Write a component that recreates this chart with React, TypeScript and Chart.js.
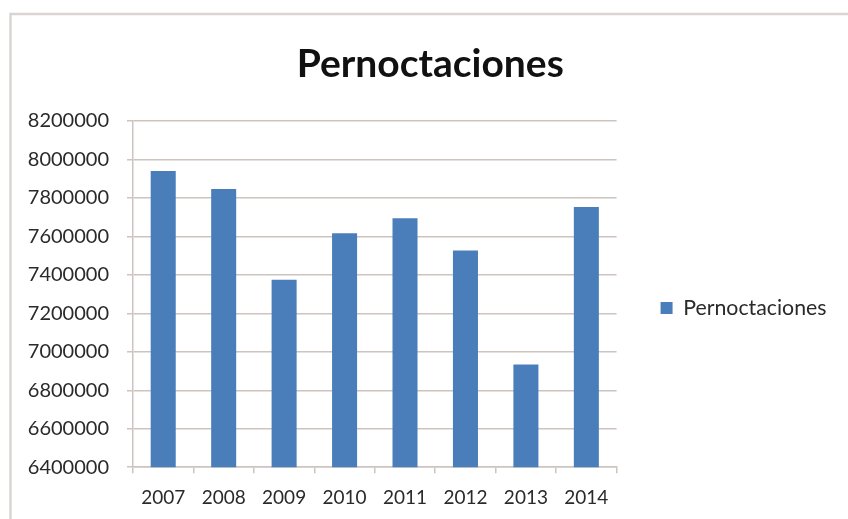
import React, { useEffect, useRef } from 'react';
import { Chart, registerables } from 'chart.js';

Chart.register(...registerables);

const categories = ['2007', '2008', '2009', '2010', '2011', '2012', '2013', '2014'];
const seriesName = 'Pernoctaciones';
const values = [7940000, 7846000, 7375000, 7617000, 7695000, 7527000, 6934000, 7753000];
const titleText = 'Pernoctaciones';
const yMin = 6400000;
const yMax = 8200000;
const yStep = 200000;

const barColor = '#4a7ebb';
const gridColor = '#cdc3bf';
const textColor = '#2a2a2a';
const fontFamily = 'Lato, "Open Sans", sans-serif';

const framePlugin = {
  id: 'frame',
  beforeDraw(chart: any) {
    const { ctx, width, height } = chart;
    ctx.save();
    ctx.fillStyle = '#ffffff';
    ctx.fillRect(0, 0, width, height);
    ctx.strokeStyle = '#dad5d2';
    ctx.lineWidth = 2.5;
    ctx.beginPath();
    ctx.moveTo(10.5, height);
    ctx.lineTo(10.5, 14);
    ctx.lineTo(width, 14);
    ctx.stroke();
    ctx.restore();
  },
};

export default function App() {
  const canvasRef = useRef<HTMLCanvasElement | null>(null);

  useEffect(() => {
    const canvas = canvasRef.current;
    if (!canvas) return;
    const chart = new Chart(canvas, {
      type: 'bar',
      data: {
        labels: categories,
        datasets: [
          {
            label: seriesName,
            data: values,
            backgroundColor: barColor,
            borderWidth: 0,
            barPercentage: 0.414,
            categoryPercentage: 1,
          },
        ],
      },
      options: {
        responsive: false,
        animation: false,
        devicePixelRatio: 1,
        layout: { padding: { left: 24, right: 11.5, top: 0, bottom: -3 } },
        plugins: {
          tooltip: { enabled: false },
          title: {
            display: true,
            text: titleText,
            color: '#111',
            font: { family: fontFamily, size: 39, weight: 'bold', lineHeight: 1.2 },
            padding: { top: 40.6, bottom: 33.6 },
          },
          legend: {
            position: 'right',
            fullSize: false,
            align: 'center',
            maxWidth: 400,
            title: {
              display: true,
              text: '',
              padding: { top: 18, bottom: 0 },
              font: { size: 10, lineHeight: 1 },
            },
            labels: {
              boxWidth: 12,
              boxHeight: 12,
              padding: 44,
              color: textColor,
              font: { family: fontFamily, size: 21.3 },
            },
          },
        },
        scales: {
          x: {
            grid: {
              display: true,
              drawOnChartArea: false,
              drawTicks: true,
              tickLength: 6,
              color: gridColor,
              lineWidth: 1.5,
              offset: true,
            },
            border: { display: true, color: gridColor, width: 1.5 },
            ticks: {
              padding: 13,
              color: textColor,
              maxRotation: 0,
              font: { family: fontFamily, size: 19 },
            },
          },
          y: {
            min: yMin,
            max: yMax,
            afterFit: (scale: any) => {
              scale.width = 109;
            },
            ticks: {
              stepSize: yStep,
              padding: 18,
              color: textColor,
              font: { family: fontFamily, size: 20 },
              callback: (v: any) => String(v),
            },
            grid: { color: gridColor, lineWidth: 1.5, tickLength: 6, drawTicks: true },
            border: { display: true, color: gridColor, width: 1.5 },
          },
        },
      },
      plugins: [framePlugin],
    });
    return () => chart.destroy();
  }, []);

  return (
    <div style={{ position: 'fixed', left: 0, top: 0, width: 848, height: 519, background: '#fff' }}>
      <canvas ref={canvasRef} width={848} height={519} style={{ display: 'block' }} />
    </div>
  );
}
